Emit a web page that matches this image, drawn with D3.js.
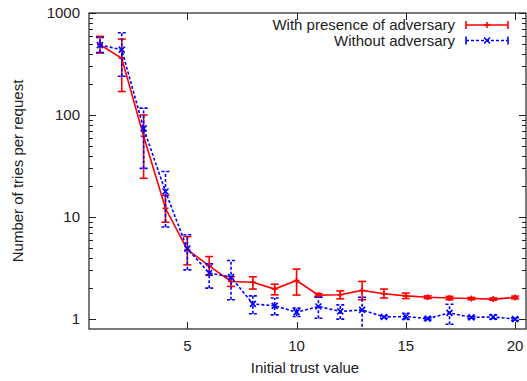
<!DOCTYPE html>
<html>
<head>
<meta charset="utf-8">
<script src="https://cdn.jsdelivr.net/npm/d3@7"></script>
<style>
  body { margin: 0; background: #fff; }
  text { font-family: "Liberation Sans", Arial, sans-serif; fill: #222; }
</style>
</head>
<body>
<svg id="chart" width="527" height="381"></svg>
<script>
// trust values on the x axis
var trustValues = [1, 2, 3, 4, 5, 6, 7, 8, 9, 10, 11, 12, 13, 14, 15, 16, 17, 18, 19, 20];

// with presence of adversary: mean, low, high
var advMean = [490, 360, 62, 12.2, 4.8, 3.33, 2.34, 2.3, 1.97, 2.39, 1.72, 1.73, 1.91, 1.77, 1.69, 1.64, 1.61, 1.59, 1.57, 1.63];
var advLow  = [405, 170, 24, 8.9, 3.4, 2.7, 2.09, 1.97, 1.73, 1.72, 1.67, 1.58, 1.55, 1.61, 1.59, 1.59, 1.55, 1.55, 1.53, 1.58];
var advHigh = [590, 555, 100, 16.3, 6.45, 4.1, 2.6, 2.6, 2.2, 3.09, 1.78, 1.89, 2.34, 1.97, 1.8, 1.69, 1.67, 1.63, 1.61, 1.68];

// without adversary: mean, low, high
var noAdvMean = [485, 437, 74, 17.8, 4.9, 2.83, 2.58, 1.41, 1.35, 1.17, 1.33, 1.19, 1.23, 1.05, 1.06, 1.01, 1.15, 1.04, 1.05, 1.0];
var noAdvLow  = [410, 240, 30, 8, 3.04, 2.01, 1.55, 1.13, 1.1, 1.06, 1.02, 1.0, 0.6, 1.02, 0.99, 0.98, 0.89, 1.01, 1.0, 0.97];
var noAdvHigh = [575, 640, 117, 28, 6.7, 3.48, 3.75, 1.69, 1.61, 1.28, 1.64, 1.38, 1.64, 1.08, 1.14, 1.04, 1.4, 1.07, 1.1, 1.03];

var yTicks = [1, 10, 100, 1000];
var xTicks = [5, 10, 15, 20];

var svg = d3.select("#chart"),
    margin = { top: 13, right: 1, bottom: 52, left: 89 },
    width = +svg.attr("width") - margin.left - margin.right,
    height = +svg.attr("height") - margin.top - margin.bottom;

var x = d3.scaleLinear().domain([0.5, 20.5]).range([0, width]);
var y = d3.scaleLog().domain([0.8, 1000]).range([height, 0]);

var g = svg.append("g").attr("transform", "translate(" + margin.left + "," + margin.top + ")");

g.append("clipPath").attr("id", "clip")
    .append("rect").attr("width", width).attr("height", height);

// minor ticks for log axis
var minor = [];
for (var d = 1; d < 1000; d *= 10) {
    for (var k = 2; k <= 9; k++) minor.push(d * k);
}
minor = minor.filter(function (v) { return v >= 0.8; });

var ticksG = g.append("g").attr("stroke", "#222").attr("stroke-width", 1);
[0, width].forEach(function (xx, i) {
    var dir = i === 0 ? 1 : -1;
    ticksG.selectAll(null).data(yTicks).enter().append("line")
        .attr("x1", xx).attr("x2", xx + dir * 7)
        .attr("y1", function (v) { return Math.round(y(v)) + 0.5; })
        .attr("y2", function (v) { return Math.round(y(v)) + 0.5; });
    ticksG.selectAll(null).data(minor).enter().append("line")
        .attr("x1", xx).attr("x2", xx + dir * 4)
        .attr("y1", function (v) { return Math.round(y(v)) + 0.5; })
        .attr("y2", function (v) { return Math.round(y(v)) + 0.5; });
});
[0, height].forEach(function (yy, i) {
    var dir = i === 0 ? 1 : -1;
    ticksG.selectAll(null).data(xTicks).enter().append("line")
        .attr("y1", yy).attr("y2", yy + dir * 7)
        .attr("x1", function (v) { return Math.round(x(v)) + 0.5; })
        .attr("x2", function (v) { return Math.round(x(v)) + 0.5; });
});

// tick labels
g.selectAll(".ylab").data(yTicks).enter().append("text")
    .attr("class", "ylab")
    .attr("x", -9).attr("y", function (v) { return y(v); })
    .attr("dy", "0.35em")
    .attr("text-anchor", "end")
    .attr("font-size", 15)
    .text(function (v) { return v; });

g.selectAll(".xlab").data(xTicks).enter().append("text")
    .attr("class", "xlab")
    .attr("x", function (v) { return x(v); })
    .attr("y", height + 22)
    .attr("text-anchor", "middle")
    .attr("font-size", 15)
    .text(function (v) { return v; });

// axis titles
svg.append("text")
    .attr("x", 305).attr("y", 373)
    .attr("text-anchor", "middle").attr("font-size", 15)
    .text("Initial trust value");
svg.append("text")
    .attr("transform", "translate(23," + (margin.top + height / 2) + ") rotate(-90)")
    .attr("text-anchor", "middle").attr("font-size", 15)
    .text("Number of tries per request");

function drawSeries(mean, low, high, color, dash, marker) {
    var data = trustValues.map(function (t, i) {
        return { x: t, m: mean[i], lo: low[i], hi: high[i] };
    });
    var s = g.append("g").attr("clip-path", "url(#clip)");
    var line = d3.line().x(function (d) { return x(d.x); }).y(function (d) { return y(d.m); });
    s.append("path").datum(data)
        .attr("d", line)
        .attr("fill", "none")
        .attr("stroke", color)
        .attr("stroke-width", 1.6)
        .attr("stroke-dasharray", dash);
    var eb = s.selectAll(null).data(data).enter().append("g")
        .attr("stroke", color).attr("stroke-width", 1.6)
        .attr("stroke-dasharray", dash);
    eb.append("line")
        .attr("x1", function (d) { return x(d.x); }).attr("x2", function (d) { return x(d.x); })
        .attr("y1", function (d) { return y(d.lo); }).attr("y2", function (d) { return y(d.hi); });
    eb.append("line")
        .attr("x1", function (d) { return x(d.x) - 4; }).attr("x2", function (d) { return x(d.x) + 4; })
        .attr("y1", function (d) { return y(d.lo); }).attr("y2", function (d) { return y(d.lo); });
    eb.append("line")
        .attr("x1", function (d) { return x(d.x) - 4; }).attr("x2", function (d) { return x(d.x) + 4; })
        .attr("y1", function (d) { return y(d.hi); }).attr("y2", function (d) { return y(d.hi); });
    s.selectAll(null).data(data).enter().append("path")
        .attr("transform", function (d) { return "translate(" + x(d.x) + "," + y(d.m) + ")"; })
        .attr("stroke", color).attr("stroke-width", 1.6).attr("fill", "none")
        .attr("d", marker);
}

drawSeries(advMean, advLow, advHigh, "#f00", null, "M-3,0H3M0,-3V3");
drawSeries(noAdvMean, noAdvLow, noAdvHigh, "#00f", "3,2", "M-3,-3L3,3M-3,3L3,-3");

// frame
g.append("rect").attr("width", width).attr("height", height)
    .attr("fill", "none").attr("stroke", "#222").attr("stroke-width", 1.2);

// legend
var legend = [
    { name: "With presence of adversary", color: "#f00", dash: null, marker: "M-3,0H3M0,-3V3" },
    { name: "Without adversary", color: "#00f", dash: "3,2", marker: "M-3,-3L3,3M-3,3L3,-3" }
];
var lg = svg.selectAll(".leg").data(legend).enter().append("g")
    .attr("class", "leg")
    .attr("transform", function (d, i) { return "translate(0," + (25 + i * 15.5) + ")"; });
lg.append("text").attr("x", 455).attr("dy", "0.35em")
    .attr("text-anchor", "end").attr("font-size", 15)
    .text(function (d) { return d.name; });
lg.append("line").attr("x1", 466).attr("x2", 508)
    .attr("stroke", function (d) { return d.color; })
    .attr("stroke-width", 1.6)
    .attr("stroke-dasharray", function (d) { return d.dash; });
lg.append("line").attr("x1", 466).attr("x2", 466).attr("y1", -4).attr("y2", 4)
    .attr("stroke", function (d) { return d.color; }).attr("stroke-width", 1.6);
lg.append("line").attr("x1", 508).attr("x2", 508).attr("y1", -4).attr("y2", 4)
    .attr("stroke", function (d) { return d.color; }).attr("stroke-width", 1.6);
lg.append("path").attr("transform", "translate(487,0)")
    .attr("d", function (d) { return d.marker; })
    .attr("stroke", function (d) { return d.color; }).attr("stroke-width", 1.6).attr("fill", "none");
</script>
</body>
</html>
